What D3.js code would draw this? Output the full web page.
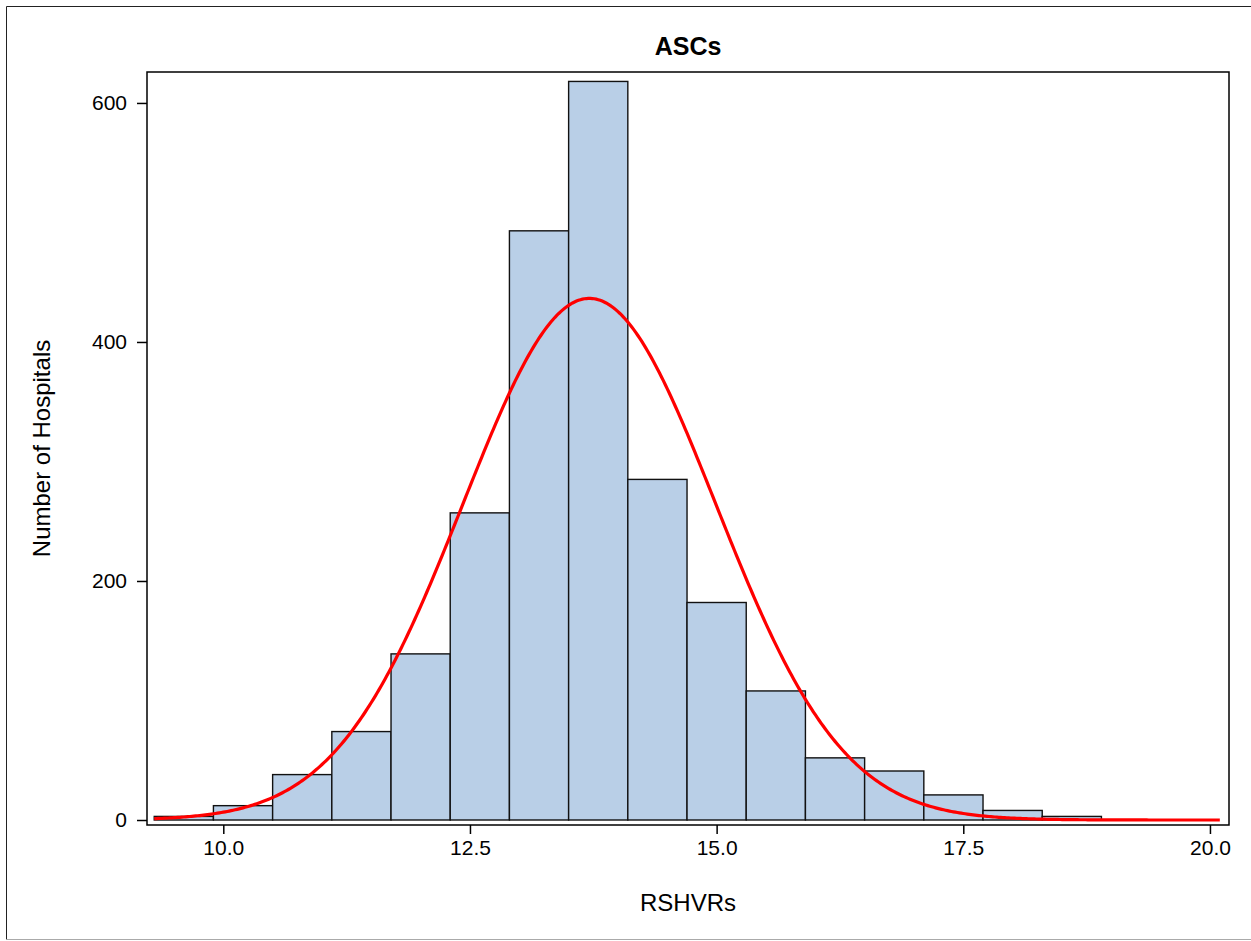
<!DOCTYPE html>
<html lang="en">
<head>
    <meta charset="UTF-8">
    <title>ASCs</title>
    <style>
    body {
        margin: 0;
        background-color: white;
    }
    svg text {
        font-family: "Liberation Sans", Arial, sans-serif;
        fill: #000;
    }
    </style>
    <script src="https://cdn.jsdelivr.net/npm/d3@7"></script>
</head>
<body>
    <svg width="1251" height="941"></svg>
    <script>

        // histogram bins (lower edge, width 0.6) and counts
        var binStarts = [9.3, 9.9, 10.5, 11.1, 11.7, 12.3, 12.9, 13.5, 14.1, 14.7, 15.3, 15.9, 16.5, 17.1, 17.7, 18.3];
        var binWidth = 0.6;
        var counts = [3, 12, 38, 74, 139, 257, 493, 618, 285, 182, 108, 52, 41, 21, 8, 3];

        // fitted normal curve
        var curveMean = 13.71;
        var curveSd = 1.28;
        var curveRange = [9.3, 20.1];

        var xTicks = [10.0, 12.5, 15.0, 17.5, 20.0];
        var yTicks = [0, 200, 400, 600];

        var svg = d3.select("svg"),
            plotL = 147, plotR = 1229, plotT = 72, plotB = 825;

        var x = d3.scaleLinear().domain([9.2267, 20.193]).range([plotL, plotR]);
        var y = d3.scaleLinear().domain([-4.18, 625.9]).range([plotB, plotT]);

        // outer frame
        svg.append("line").attr("x1", 6.5).attr("y1", 6.5).attr("x2", 1251).attr("y2", 6.5).attr("stroke", "#222");
        svg.append("line").attr("x1", 6.5).attr("y1", 6.5).attr("x2", 6.5).attr("y2", 939.5).attr("stroke", "#222");
        svg.append("line").attr("x1", 6.5).attr("y1", 939.5).attr("x2", 1251).attr("y2", 939.5).attr("stroke", "#aaa");

        // bars
        svg.append("g").selectAll("rect")
            .data(counts)
            .join("rect")
            .attr("x", function(d, i) { return x(binStarts[i]); })
            .attr("width", function(d, i) { return x(binStarts[i] + binWidth) - x(binStarts[i]); })
            .attr("y", function(d) { return y(d); })
            .attr("height", function(d) { return y(0) - y(d); })
            .attr("fill", "#b9cfe7")
            .attr("stroke", "#111")
            .attr("stroke-width", 1.4);

        // normal density scaled to counts
        var total = d3.sum(counts);
        function density(v) {
            var z = (v - curveMean) / curveSd;
            return total * binWidth * Math.exp(-0.5 * z * z) / (curveSd * Math.sqrt(2 * Math.PI));
        }
        var curveX = d3.range(curveRange[0], curveRange[1] + 0.001, 0.02);
        svg.append("path")
            .datum(curveX)
            .attr("fill", "none")
            .attr("stroke", "#ff0000")
            .attr("stroke-width", 3.2)
            .attr("d", d3.line().x(function(d) { return x(d); }).y(function(d) { return y(density(d)); }));

        // plot frame
        svg.append("rect")
            .attr("x", plotL).attr("y", plotT)
            .attr("width", plotR - plotL).attr("height", plotB - plotT)
            .attr("fill", "none").attr("stroke", "#000").attr("stroke-width", 1.5);

        // axes
        var xAxis = svg.append("g")
            .attr("transform", "translate(0," + plotB + ")")
            .call(d3.axisBottom(x).tickValues(xTicks).tickFormat(d3.format(".1f")).tickSize(9).tickPadding(6));
        var yAxis = svg.append("g")
            .attr("transform", "translate(" + plotL + ",0)")
            .call(d3.axisLeft(y).tickValues(yTicks).tickSize(10).tickPadding(10));
        [xAxis, yAxis].forEach(function(g) {
            g.select(".domain").remove();
            g.selectAll(".tick line").attr("stroke", "#000").attr("stroke-width", 1.5);
            g.selectAll(".tick text").attr("font-size", 21).attr("fill", "#000")
                .style("font-family", "'Liberation Sans', Arial, sans-serif");
        });

        // titles
        svg.append("text")
            .attr("x", (plotL + plotR) / 2).attr("y", 55)
            .attr("text-anchor", "middle")
            .attr("font-size", 25).attr("font-weight", "bold")
            .text("ASCs");
        svg.append("text")
            .attr("x", (plotL + plotR) / 2).attr("y", 911)
            .attr("text-anchor", "middle")
            .attr("font-size", 24)
            .text("RSHVRs");
        svg.append("text")
            .attr("transform", "translate(50," + (plotT + plotB) / 2 + ") rotate(-90)")
            .attr("text-anchor", "middle")
            .attr("font-size", 24)
            .text("Number of Hospitals");
    </script>
</body>
</html>
